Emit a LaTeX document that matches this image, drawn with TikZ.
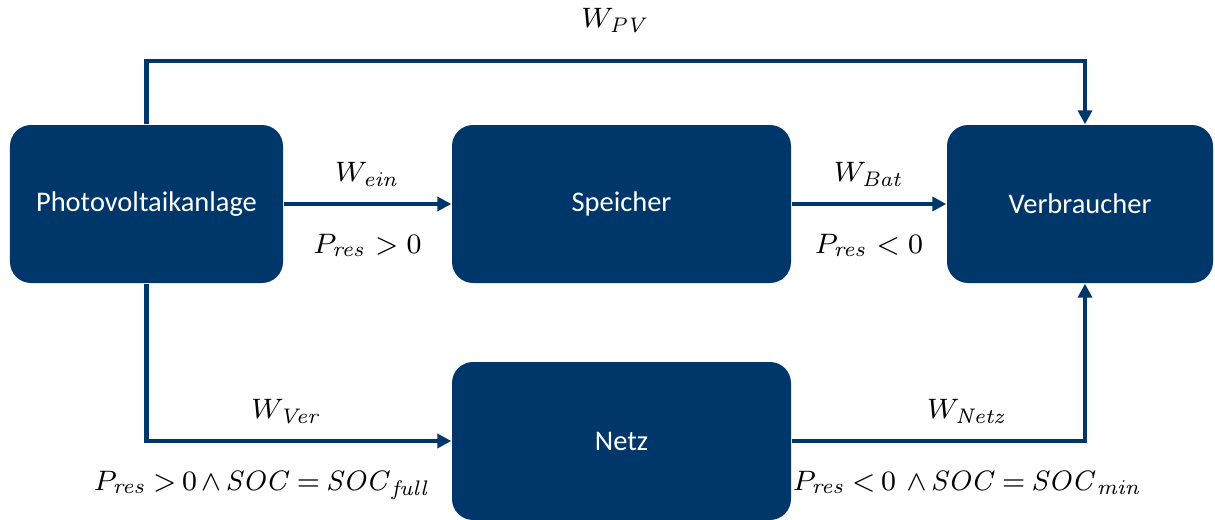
\documentclass[tikz,border=0pt]{standalone}
\usepackage[no-math]{fontspec}
\setmainfont{Carlito}
\usepackage{tikz}
\usetikzlibrary{arrows.meta}
\definecolor{navy}{RGB}{0,55,107}

\begin{document}
\begin{tikzpicture}[
  every node/.style={font=\fontsize{8.1}{10}\selectfont},
  block/.style={fill=navy, text=white, rounded corners=6pt, minimum height=1.58cm, inner sep=0pt},
  flow/.style={-{Triangle[length=1.4mm,width=1.4mm]}, draw=navy, line width=1.2pt},
  edgelabel/.style={font=\fontsize{8}{9}\selectfont, inner sep=0pt},
  condlabel/.style={edgelabel, font=\fontsize{7.9}{9}\selectfont,
    execute at begin node={\thickmuskip=3.5mu\relax\medmuskip=2.5mu\relax}}
]
\useasboundingbox (0,0) rectangle (12.15,5.19);

\node[block, minimum width=2.73cm] (pv) at (1.465,3.15) {Photovoltaikanlage};
\node[block, minimum width=3.39cm] (speicher) at (6.215,3.15) {Speicher};
\node[block, minimum width=2.66cm] (verb) at (10.80,3.15) {Verbraucher};
\node[block, minimum width=3.39cm] (netz) at (6.215,0.78) {Netz};

\coordinate (vtop) at (10.85,4.58);

\draw[flow] (pv.north) -- (pv.north |- vtop) -- node[edgelabel, above=7.5pt] (wpv) {$W_{\mathit{PV}}$} (vtop) -- (verb.north -| vtop);
\draw[flow] (pv) -- node[edgelabel, above=4.5pt] (wein) {$W_{\mathit{ein}}$}
  node[edgelabel, below=8pt] (pein) {$P_{\mathit{res}}>0$} (speicher);
\draw[flow] (speicher) -- node[edgelabel, above=4.5pt] (wbat) {$W_{\mathit{Bat}}$}
  node[edgelabel, below=8pt] (pbat) {$P_{\mathit{res}}<0$} (verb);
\draw[flow] (pv.south) |- node[pos=0.73, edgelabel, above=4.5pt] (wver) {$W_{\mathit{Ver}}$}
  node[pos=0.69, condlabel, below=8pt] (pver) {$P_{\mathit{res}}>0\wedge \mathit{SOC}=\mathit{SOC}_{\mathit{full}}$} (netz.west);
\draw[flow] (netz.east) -| node[pos=0.30, edgelabel, above=4.5pt] (wnetz) {$W_{\mathit{Netz}}$}
  node[pos=0.30, condlabel, below=8pt] (pnetz) {$P_{\mathit{res}}<0\ \wedge \mathit{SOC}=\mathit{SOC}_{\mathit{min}}$} (verb.south -| vtop);

\end{tikzpicture}
\end{document}
